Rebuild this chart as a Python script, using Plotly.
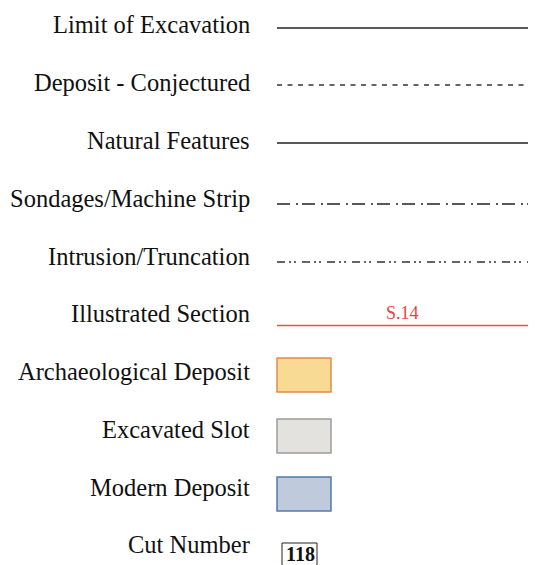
import plotly.graph_objects as go

# ---- data ----
labels = ["Limit of Excavation", "Deposit - Conjectured", "Natural Features",
          "Sondages/Machine Strip", "Intrusion/Truncation", "Illustrated Section",
          "Archaeological Deposit", "Excavated Slot", "Modern Deposit", "Cut Number"]
section_label = "S.14"
cut_number = "118"

# ---- layout / styles ----
PAGE_W, PAGE_H = 536, 565
OFF = 8  # page body margin
W, H = PAGE_W - OFF, PAGE_H - OFF
label_x = 252
label_y = [24, 82, 140, 198, 256, 313, 371, 429, 487, 544]
line_y = [28, 85, 143, 204, 262, 325.5]
line_x0, line_x1 = 277, 540
line_styles = [
    dict(color="#222222", width=1.6, dash="solid"),
    dict(color="#333333", width=1.5, dash="5px,5.5px"),
    dict(color="#222222", width=1.6, dash="solid"),
    dict(color="#222222", width=1.6, dash="13px,6px,2px,4px"),
    dict(color="#333333", width=1.5, dash="8px,4px,2px,3px,2px,6px"),
    dict(color="#f04a4a", width=1.6, dash="solid"),
]
box_tops = [358, 419, 477]
box_h = 34
box_x0, box_x1 = 277, 331
box_styles = [
    dict(fill="#f8da95", line="#de8a50"),
    dict(fill="#e3e2de", line="#9c9c9c"),
    dict(fill="#bfcbdc", line="#5479a8"),
]
FONT = "Liberation Serif, Times New Roman, serif"

fig = go.Figure()

for yv, st in zip(line_y, line_styles):
    fig.add_trace(go.Scatter(x=[line_x0, line_x1], y=[yv, yv], mode="lines",
                             line=st, hoverinfo="skip", showlegend=False))

for top, st in zip(box_tops, box_styles):
    fig.add_shape(type="rect", x0=box_x0, x1=box_x1, y0=top, y1=top + box_h,
                  fillcolor=st["fill"], line=dict(color=st["line"], width=1.5))

for lab, yv in zip(labels, label_y):
    fig.add_annotation(x=label_x, y=yv, text=lab, showarrow=False, xanchor="right",
                       yanchor="middle", font=dict(family=FONT, size=24.5, color="#111111"))

fig.add_annotation(x=402, y=313, text=section_label, showarrow=False,
                   font=dict(family=FONT, size=18, color="#f04040"))

fig.add_shape(type="rect", x0=282, x1=317, y0=543, y1=580,
              fillcolor="white", line=dict(color="#222222", width=1))
fig.add_annotation(x=300, y=554, text="<b>" + cut_number + "</b>", showarrow=False,
                   font=dict(family=FONT, size=20, color="#111111"))

fig.update_xaxes(range=[OFF, PAGE_W], visible=False, fixedrange=True)
fig.update_yaxes(range=[PAGE_H, OFF], visible=False, fixedrange=True)
fig.update_layout(width=W, height=H, margin=dict(l=0, r=0, t=0, b=0),
                  paper_bgcolor="white", plot_bgcolor="white")
fig.write_html("out.html")
